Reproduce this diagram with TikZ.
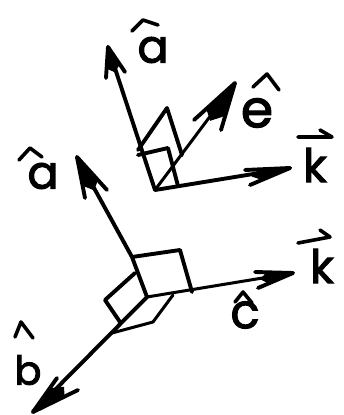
\documentclass[tikz,border=0pt]{standalone}
\usepackage{fontspec}
\setmainfont{Poppins}[FakeBold=2.2]
\usetikzlibrary{calc}
\tikzset{
  ink/.style={line width=3.9pt,line cap=round,line join=round,black},
  thin ink/.style={line width=3pt,line cap=round,line join=round,black},
  letter/.style={inner sep=0pt,black,font=\fontsize{#1}{#1}\selectfont},
  hatstroke/.style={line width=3.6pt,line cap=round,line join=round,black}
}
\newcommand{\pointer}[3]{%
  \fill[black] (#1) -- ($(#1)!0.7!(#2)$) -- ($($(#2)!0.5!(#3)$)!0.1!(#1)$) -- ($(#1)!0.7!(#3)$) -- cycle;
  \draw[ink] (#2) -- (#1) -- (#3);
}
\begin{document}
\begin{tikzpicture}[x=1pt,y=-1pt]
\useasboundingbox (0,0) rectangle (344,415);
% upper figure
\coordinate (uo) at (155,190);
\coordinate (ua) at (108,47);
\coordinate (uab) at (106,78);
\coordinate (uac) at (125,72);
\coordinate (uk) at (290,168);
\coordinate (ukb) at (245,170);
\coordinate (ukc) at (250,185);
\coordinate (ue) at (235,83);
\coordinate (ueb) at (194,120);
\coordinate (uec) at (221,130);
\coordinate (us1) at (138,155);
\coordinate (us2) at (168,148);
\coordinate (us3) at (178,186);
\coordinate (ub1) at (138,150);
\coordinate (ub2) at (167,108);
\coordinate (ub3) at (182,155);
\draw[ink] (uo) -- (ua);
\draw[ink] (uo) -- (uk);
\draw[thin ink] (uo) -- (ue);
\pointer{ua}{uab}{uac}
\pointer{uk}{ukb}{ukc}
\pointer{ue}{ueb}{uec}
\draw[ink] (us1) -- (us2) -- (us3);
\draw[ink] (ub1) -- (ub2) -- (ub3);
% lower figure
\coordinate (lo) at (147,297);
\coordinate (la) at (77,157);
\coordinate (lab) at (85,198);
\coordinate (lac) at (107,190);
\coordinate (lk) at (293,273);
\coordinate (lkb) at (255,272);
\coordinate (lkc) at (258,288);
\coordinate (lb) at (33,412);
\coordinate (lbb) at (57,378);
\coordinate (lbc) at (78,390);
\coordinate (ls1) at (132,257);
\coordinate (ls2) at (180,250);
\coordinate (ls3) at (192,292);
\coordinate (ll1) at (135,273);
\coordinate (ll2) at (105,300);
\coordinate (ll3) at (120,322);
\coordinate (lw1) at (173,295);
\coordinate (lw2) at (153,322);
\coordinate (lw3) at (112,333);
\draw[ink] (lo) -- (ls1) -- (la);
\draw[thin ink] (lo) -- (lk);
\draw[ink] (lo) -- (lb);
\pointer{la}{lab}{lac}
\pointer{lk}{lkb}{lkc}
\pointer{lb}{lbb}{lbc}
\draw[ink] (ls1) -- (ls2) -- (ls3);
\draw[ink] (ll1) -- (ll2) -- (ll3);
\draw[thin ink] (lw1) -- (lw2) -- (lw3);
% labels
\node[letter=46] (ta) at (153,50) {a};
\coordinate (ta1) at (132,31); \coordinate (ta2) at (143,20); \coordinate (ta3) at (158,25);
\draw[hatstroke] (ta1) -- (ta2) -- (ta3);
\node[letter=52] (te) at (257,113) {e};
\coordinate (te1) at (253,87); \coordinate (te2) at (267,74); \coordinate (te3) at (279,90);
\draw[hatstroke] (te1) -- (te2) -- (te3);
\node[letter=46] (tk) at (315,165) {k};
\coordinate (tk1) at (298,137); \coordinate (tk2) at (332,137); \coordinate (tk3) at (320,130);
\draw[hatstroke] (tk1) -- (tk2) -- (tk3);
\node[letter=46] (tal) at (43,176) {a};
\coordinate (tal1) at (19,160); \coordinate (tal2) at (30,148); \coordinate (tal3) at (42,157);
\draw[hatstroke] (tal1) -- (tal2) -- (tal3);
\node[letter=46] (tkl) at (322,266) {k};
\coordinate (tkl1) at (298,243); \coordinate (tkl2) at (330,237); \coordinate (tkl3) at (320,230);
\draw[hatstroke] (tkl1) -- (tkl2) -- (tkl3);
\node[letter=48] (tc) at (245,315) {c};
\coordinate (tc1) at (235,302); \coordinate (tc2) at (243,292); \coordinate (tc3) at (252,303);
\draw[hatstroke] (tc1) -- (tc2) -- (tc3);
\node[letter=40] (tb) at (28,370) {b};
\coordinate (tb1) at (15,337); \coordinate (tb2) at (21,322); \coordinate (tb3) at (33,338);
\draw[hatstroke] (tb1) -- (tb2) -- (tb3);
\end{tikzpicture}
\end{document}
